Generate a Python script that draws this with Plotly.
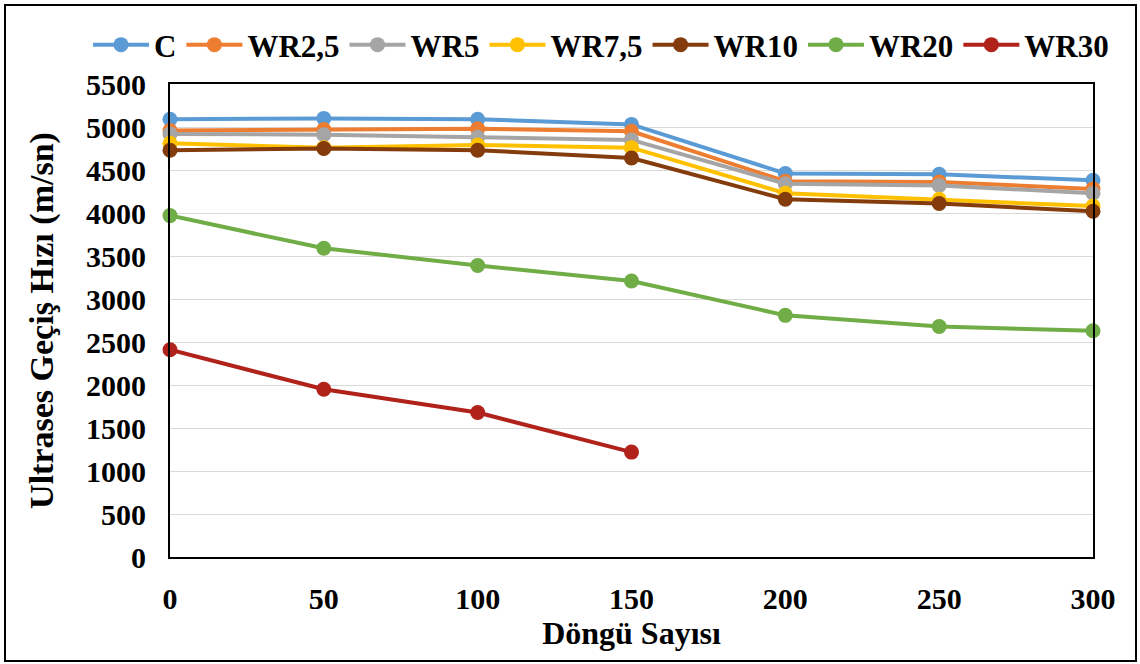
import plotly.graph_objects as go

cycles = [0, 50, 100, 150, 200, 250, 300]
series_names = ["C", "WR2,5", "WR5", "WR7,5", "WR10", "WR20", "WR30"]
C = [5090, 5100, 5090, 5030, 4460, 4450, 4380]
WR2_5 = [4960, 4970, 4980, 4950, 4370, 4360, 4280]
WR5 = [4920, 4910, 4880, 4850, 4340, 4320, 4230]
WR7_5 = [4810, 4760, 4790, 4760, 4230, 4160, 4080]
WR10 = [4730, 4750, 4730, 4640, 4160, 4110, 4020]
WR20 = [3970, 3590, 3390, 3210, 2810, 2680, 2630]
WR30 = [2410, 1950, 1680, 1220]
colors = ["#5B9BD5", "#ED7D31", "#A5A5A5", "#FFC000", "#843C0C", "#70AD47", "#B0221A"]
y_ticks = list(range(0, 5501, 500))

all_series = [C, WR2_5, WR5, WR7_5, WR10, WR20, WR30]

W, H = 1140, 664
ML, MR, MT, MB = 170, 47, 84, 107
FONT = "Liberation Serif"
FS = 30

fig = go.Figure()
for name, vals, col in zip(series_names, all_series, colors):
    fig.add_trace(go.Scatter(
        x=cycles[:len(vals)], y=vals, name=name, mode="lines+markers",
        line=dict(color=col, width=4),
        marker=dict(color=col, size=15),
        cliponaxis=False,
    ))

pw = W - ML - MR
ph = H - MT - MB
fig.add_shape(type="rect", xref="paper", yref="paper",
              x0=(5 - ML) / pw, x1=(1136 - ML) / pw,
              y0=(H - MB - 661) / ph, y1=(H - MB - 5) / ph,
              line=dict(color="black", width=2), layer="below")

fig.update_layout(
    width=W, height=H,
    margin=dict(l=ML, r=MR, t=MT, b=MB, autoexpand=False),
    paper_bgcolor="white", plot_bgcolor="white",
    font=dict(family=FONT, size=FS, color="black", weight="bold"),
    showlegend=True,
    legend=dict(orientation="h", x=(88 - ML) / pw, xanchor="left",
                y=(H - MB - 45) / ph, yanchor="middle",
                font=dict(family=FONT, size=31, color="black", weight="bold"),
                itemwidth=56, tracegroupgap=0, bgcolor="rgba(0,0,0,0)"),
    xaxis=dict(range=[0, 300], tickvals=cycles, ticktext=[str(c) for c in cycles],
               showgrid=False, zeroline=False, showline=True, linecolor="black", linewidth=2,
               mirror=True, ticks="", ticklabelstandoff=14,
               title=dict(text="Döngü Sayısı", standoff=8,
                          font=dict(family=FONT, size=32, weight="bold"))),
    yaxis=dict(range=[0, 5500], tickvals=y_ticks, ticktext=[str(v) for v in y_ticks],
               showgrid=True, gridcolor="#D9D9D9", gridwidth=1.2, zeroline=False,
               showline=True, linecolor="black", linewidth=2, mirror=True, ticks="",
               ticklabelstandoff=16,
               title=dict(text="Ultrases Geçiş Hızı (m/sn)", standoff=22,
                          font=dict(family=FONT, size=34, weight="bold"))),
)

fig.write_html("out.html", config={"displayModeBar": False},
               post_script="document.body.style.margin='0px';document.body.style.padding='0px';")
